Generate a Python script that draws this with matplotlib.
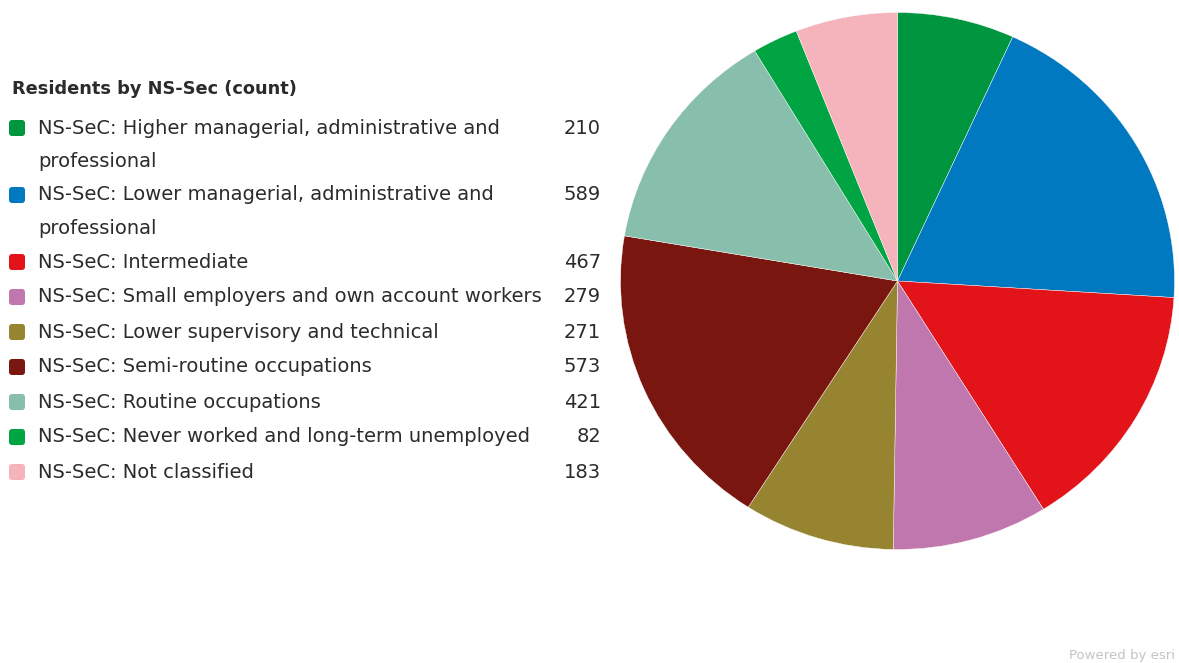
import matplotlib.pyplot as plt
import matplotlib.patches as mpatches

# Dữ liệu
LABELS = [
    "NS-SeC: Higher managerial, administrative and\nprofessional",
    "NS-SeC: Lower managerial, administrative and\nprofessional",
    "NS-SeC: Intermediate",
    "NS-SeC: Small employers and own account workers",
    "NS-SeC: Lower supervisory and technical",
    "NS-SeC: Semi-routine occupations",
    "NS-SeC: Routine occupations",
    "NS-SeC: Never worked and long-term unemployed",
    "NS-SeC: Not classified",
]
COUNTS = [210, 589, 467, 279, 271, 573, 421, 82, 183]
COLORS = ["#00953f", "#0079c1", "#e3131a", "#bf77ad", "#978431",
          "#7a1610", "#88bfac", "#00a443", "#f5b3bb"]
TITLE = "Residents by NS-Sec (count)"

plt.rcParams.update({"font.family": "DejaVu Sans"})

W, H = 1179, 663
fig = plt.figure(figsize=(W / 100, H / 100), dpi=100)

# --- Pie (hơi dẹt theo chiều dọc như hình gốc) ---
cx, cy, rx, ry = 897.5, 281, 277, 268.5
pax = fig.add_axes([(cx - rx) / W, (H - cy - ry) / H, 2 * rx / W, 2 * ry / H])
pax.pie(COUNTS, colors=COLORS, startangle=90, counterclock=False,
        wedgeprops=dict(edgecolor="white", linewidth=0.3))
pax.set_xlim(-1, 1)
pax.set_ylim(-1, 1)
pax.set_aspect("auto")
pax.axis("off")

# --- Legend (vẽ bằng pixel) ---
lax = fig.add_axes([0, 0, 1, 1], zorder=-1)
lax.set_xlim(0, W)
lax.set_ylim(H, 0)
lax.axis("off")

txt_color = "#2b2b2b"
fs = 14
lax.text(12, 89, TITLE, fontsize=12.8, fontweight="bold", color=txt_color,
         va="center", ha="left")

row_y = 128
line_h = 33.5
for lab, val, col in zip(LABELS, COUNTS, COLORS):
    lax.add_patch(mpatches.FancyBboxPatch(
        (9, row_y - 8), 16, 16,
        boxstyle="round,pad=0,rounding_size=3",
        facecolor=col, edgecolor="none"))
    lines = lab.split("\n")
    for k, ln in enumerate(lines):
        lax.text(38, row_y + k * line_h, ln, fontsize=fs, color=txt_color,
                 va="center", ha="left")
    lax.text(601, row_y, str(val), fontsize=fs, color=txt_color,
             va="center", ha="right")
    row_y += line_h * len(lines) + (1.5 if len(lines) == 1 else 0)

lax.text(1175, 655, "Powered by esri", fontsize=9.5, color="#c4c4c4",
         va="center", ha="right")

fig.savefig("out.png", dpi=100)
